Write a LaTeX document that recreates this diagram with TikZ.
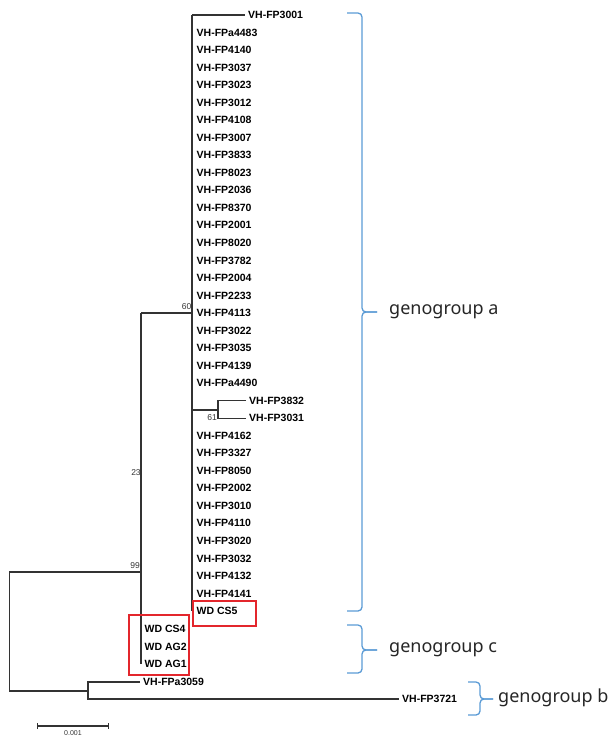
\documentclass[tikz,border=0pt]{standalone}
\usepackage{fontspec}
\setmainfont{Liberation Sans}
\newfontfamily\grpfont{Noto Sans}
\usetikzlibrary{arrows.meta}
\definecolor{treegray}{HTML}{333333}
\definecolor{boxred}{HTML}{E3262C}
\definecolor{braceblue}{HTML}{5B9BD5}
\definecolor{labelgray}{HTML}{262626}
\begin{document}
\begin{tikzpicture}[x=1pt,y=-1pt,
  branch/.style={draw=treegray, line width=1.3pt},
  leaf/.style={anchor=west, inner xsep=3pt, inner ysep=0pt,
    font=\fontsize{10.5}{12}\selectfont\bfseries, text=black},
  boot/.style={inner sep=0pt, font=\fontsize{8.5}{9}\selectfont, text=treegray},
  redbox/.style={draw=boxred, line width=2pt},
  grpbrace/.style={draw=braceblue, line width=1.3pt, rounded corners=4pt},
  grplabel/.style={anchor=west, inner sep=0pt,
    font=\grpfont\fontsize{18}{20}\selectfont, text=labelgray}]
\useasboundingbox (0,0) rectangle (610,737);

% ---- leaves of genogroup a (zero-length branches on the x=192 line)
\foreach \lab/\i in {a4483/1,4140/2,3037/3,3023/4,3012/5,4108/6,3007/7,
  3833/8,8023/9,2036/10,8370/11,2001/12,8020/13,3782/14,2004/15,2233/16,
  4113/17,3022/18,3035/19,4139/20,a4490/21,4162/24,3327/25,8050/26,
  2002/27,3010/28,4110/29,3020/30,3032/31,4132/32,4141/33}
  \node[leaf] (FP\lab) at (193.5,{15+17.53*\i}) {VH-FP\lab};
\node[leaf] (FP3001) at (245,15) {VH-FP3001};
\node[leaf] (FP3832) at (246,{15+17.53*22}) {VH-FP3832};
\node[leaf] (FP3031) at (246,{15+17.53*23}) {VH-FP3031};
\node[leaf] (WDCS5) at (193.5,{15+17.53*34}) {WD CS5};

% ---- genogroup c leaves
\node[leaf] (WDCS4) at (141.5,629) {WD CS4};
\node[leaf] (WDAG2) at (141.5,646.5) {WD AG2};
\node[leaf] (WDAG1) at (141.5,664) {WD AG1};

% ---- genogroup b leaves
\node[leaf] (FPa3059) at (140,682) {VH-FPa3059};
\node[leaf] (FP3721) at (399,699) {VH-FP3721};

% ---- internal nodes
\coordinate (n60top) at (192,15);
\coordinate (n60) at (192,313);
\coordinate (n60bot) at (192,{15+17.53*34});
\coordinate (n61in) at (192,410);
\coordinate (n61) at (218,410);
\coordinate (n99top) at (141,313);
\coordinate (n99) at (141,572);
\coordinate (n99bot) at (141,664);
\coordinate (rootT) at (9.5,572);
\coordinate (rootB) at (9.5,691);
\coordinate (nb) at (88,691);

% ---- branches
\draw[branch] (n60top) -- (n60bot);
\draw[branch] (n60top) -- (FP3001.west);
\draw[branch] (n61in) -- (n61);
\draw[branch] (FP3832.west) -| (n61) |- (FP3031.west);
\draw[branch] (n99top) -- (n99bot);
\draw[branch] (n99top) -- (n60);
\draw[branch] (n99) -- (rootT) -- (rootB) -- (nb);
\draw[branch] (FPa3059.west) -| (nb) |- (FP3721.west);

% ---- bootstrap values
\node[boot] (b60) at (186.5,307) {60};
\node[boot] (b61) at (212,418) {61};
\node[boot] (b23) at (136,473) {23};
\node[boot] (b99) at (135,566) {99};

% ---- highlighted wild-type isolates
\draw[redbox] (193,601) rectangle (256,626);
\draw[redbox] (129,615) rectangle (189,675);

% ---- scale bar
\coordinate (sbL) at (37,726);
\coordinate (sbR) at (109,726);
\draw[branch, {Bar[width=6pt]}-{Bar[width=6pt]}] (sbL) -- (sbR);
\node[inner sep=0pt, font=\fontsize{7}{8}\selectfont, text=treegray] (sbl) at (73,733.5) {0.001};

% ---- genogroup braces and labels
\draw[grpbrace] (347,13) -| (362,312) -- (377,312);
\draw[grpbrace] (347,611) -| (362,312) -- (377,312);
\node[grplabel] (ga) at (389,312) {genogroup a};

\draw[grpbrace] (347,625) -| (362,650) -- (377,650);
\draw[grpbrace] (347,673) -| (362,650) -- (377,650);
\node[grplabel] (gc) at (389,650) {genogroup c};

\draw[grpbrace] (468,682) -| (480,699) -- (493,699);
\draw[grpbrace] (468,715) -| (480,699) -- (493,699);
\node[grplabel] (gb) at (498,698) {genogroup b};
\end{tikzpicture}
\end{document}
